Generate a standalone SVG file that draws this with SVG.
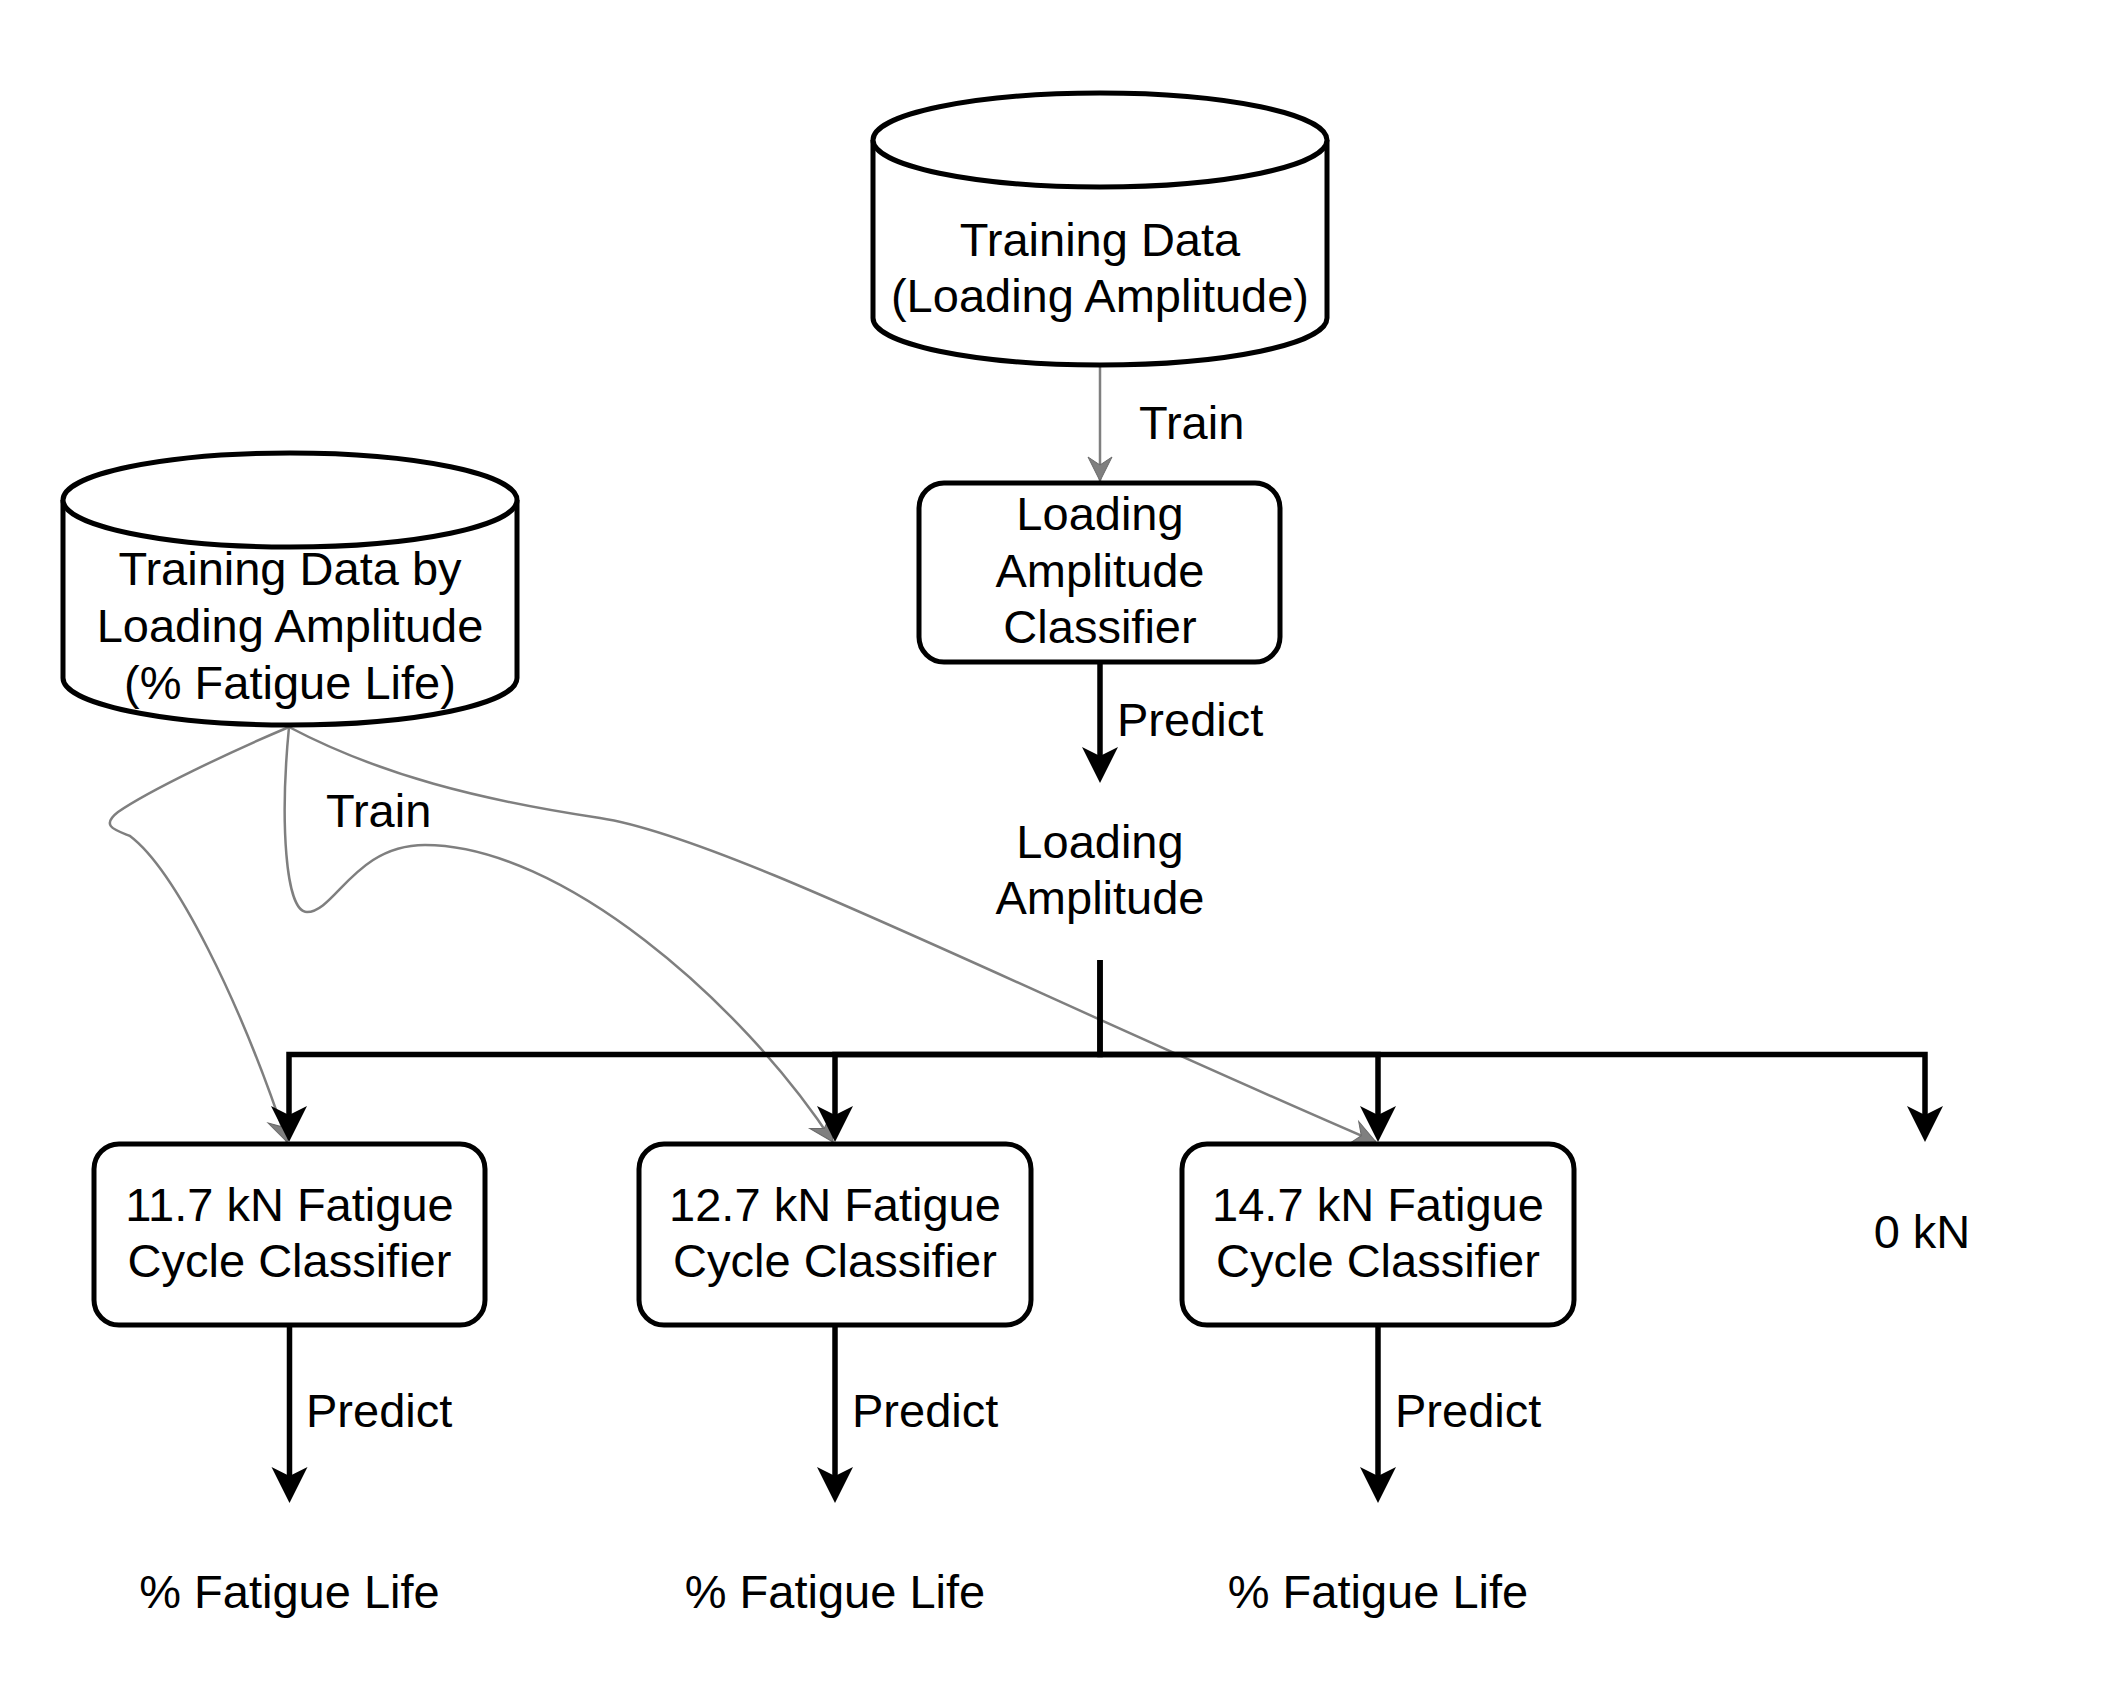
<svg xmlns="http://www.w3.org/2000/svg" width="2106" height="1686" viewBox="0 0 2106 1686">
<style>
.lbl{font-family:"Liberation Sans",Arial,Helvetica,sans-serif;font-size:47px;fill:#000;text-anchor:middle}
.lft{text-anchor:start}
.shape{fill:#fff;stroke:#000;stroke-width:5}
.blk{fill:none;stroke:#000;stroke-width:5.5;stroke-linejoin:miter;stroke-linecap:butt;marker-end:url(#ab)}
.gry{fill:none;stroke:#7f7f7f;stroke-width:2.5;marker-end:url(#ag)}
</style>
<defs>
<marker id="ab" markerUnits="userSpaceOnUse" markerWidth="50" markerHeight="50" viewBox="-15 -25 50 50" refX="0" refY="0" orient="auto" overflow="visible">
<path d="M27,0 L-9,-18 L0,0 L-9,18 Z" fill="#000"/>
</marker>
<marker id="ag" markerUnits="userSpaceOnUse" markerWidth="40" markerHeight="40" viewBox="-30 -20 40 40" refX="0" refY="0" orient="auto" overflow="visible">
<path d="M0,0 L-24,-12 L-16,0 L-24,12 Z" fill="#7f7f7f" stroke="#6a6a6a" stroke-width="1"/>
</marker>
</defs>
<rect width="2106" height="1686" fill="#fff"/>

<g id="connectors">
<path class="gry" d="M1100 366 V481"/>
<path class="gry" d="M289 727 C230 752 150 790 118 812 C100 826 115 830 130 836 C175 870 240 1000 287 1142"/>
<path class="gry" d="M289 727 C280 820 285 912 307 912 C335 912 355 845 425 845 C560 845 740 1000 833 1142"/>
<path class="gry" d="M289 727 C380 775 480 800 600 818 C720 836 1000 980 1376 1142"/>
<path class="blk" d="M1100 663 V756"/>
<path class="blk" d="M1100 960 V1054.5 H289 V1115"/>
<path class="blk" d="M1100 1054.5 H835 V1115"/>
<path class="blk" d="M1100 1054.5 H1378 V1115"/>
<path class="blk" d="M1100 960 V1054.5 H1925 V1115"/>
<path class="blk" d="M289.5 1326 V1476"/>
<path class="blk" d="M835 1326 V1476"/>
<path class="blk" d="M1378 1326 V1476"/>
<text class="lbl lft" x="1139" y="439">Train</text>
<text class="lbl lft" x="1117" y="736">Predict</text>
<text class="lbl lft" x="326" y="827">Train</text>
<text class="lbl lft" x="306" y="1427">Predict</text>
<text class="lbl lft" x="852" y="1427">Predict</text>
<text class="lbl lft" x="1395" y="1427">Predict</text>
</g>

<g id="td-amplitude">
<path class="shape" d="M873 140 A227 47 0 0 1 1327 140 L1327 318 A227 47 0 0 1 873 318 Z"/>
<path class="shape" fill="none" d="M873 140 A227 47 0 0 0 1327 140"/>
<text class="lbl" x="1100" y="256">Training Data</text>
<text class="lbl" x="1100" y="312">(Loading Amplitude)</text>
</g>

<g id="td-fatigue">
<path class="shape" d="M63 500 A227 47 0 0 1 517 500 L517 678 A227 47 0 0 1 63 678 Z"/>
<path class="shape" fill="none" d="M63 500 A227 47 0 0 0 517 500"/>
<text class="lbl" x="290" y="585">Training Data by</text>
<text class="lbl" x="290" y="642">Loading Amplitude</text>
<text class="lbl" x="290" y="699">(% Fatigue Life)</text>
</g>

<g id="la-classifier">
<rect class="shape" x="919" y="483" width="361" height="179" rx="25"/>
<text class="lbl" x="1100" y="530">Loading</text>
<text class="lbl" x="1100" y="587">Amplitude</text>
<text class="lbl" x="1100" y="643">Classifier</text>
</g>

<g id="la-output">
<text class="lbl" x="1100" y="858">Loading</text>
<text class="lbl" x="1100" y="914">Amplitude</text>
</g>

<g id="c117">
<rect class="shape" x="94" y="1144" width="391" height="181" rx="25"/>
<text class="lbl" x="289.5" y="1221">11.7 kN Fatigue</text>
<text class="lbl" x="289.5" y="1277">Cycle Classifier</text>
</g>
<g id="c127">
<rect class="shape" x="639" y="1144" width="392" height="181" rx="25"/>
<text class="lbl" x="835" y="1221">12.7 kN Fatigue</text>
<text class="lbl" x="835" y="1277">Cycle Classifier</text>
</g>
<g id="c147">
<rect class="shape" x="1182" y="1144" width="392" height="181" rx="25"/>
<text class="lbl" x="1378" y="1221">14.7 kN Fatigue</text>
<text class="lbl" x="1378" y="1277">Cycle Classifier</text>
</g>
<g id="zero">
<text class="lbl" x="1922" y="1248">0 kN</text>
</g>
<g id="fl1"><text class="lbl" x="289.5" y="1608">% Fatigue Life</text></g>
<g id="fl2"><text class="lbl" x="835" y="1608">% Fatigue Life</text></g>
<g id="fl3"><text class="lbl" x="1378" y="1608">% Fatigue Life</text></g>
</svg>
